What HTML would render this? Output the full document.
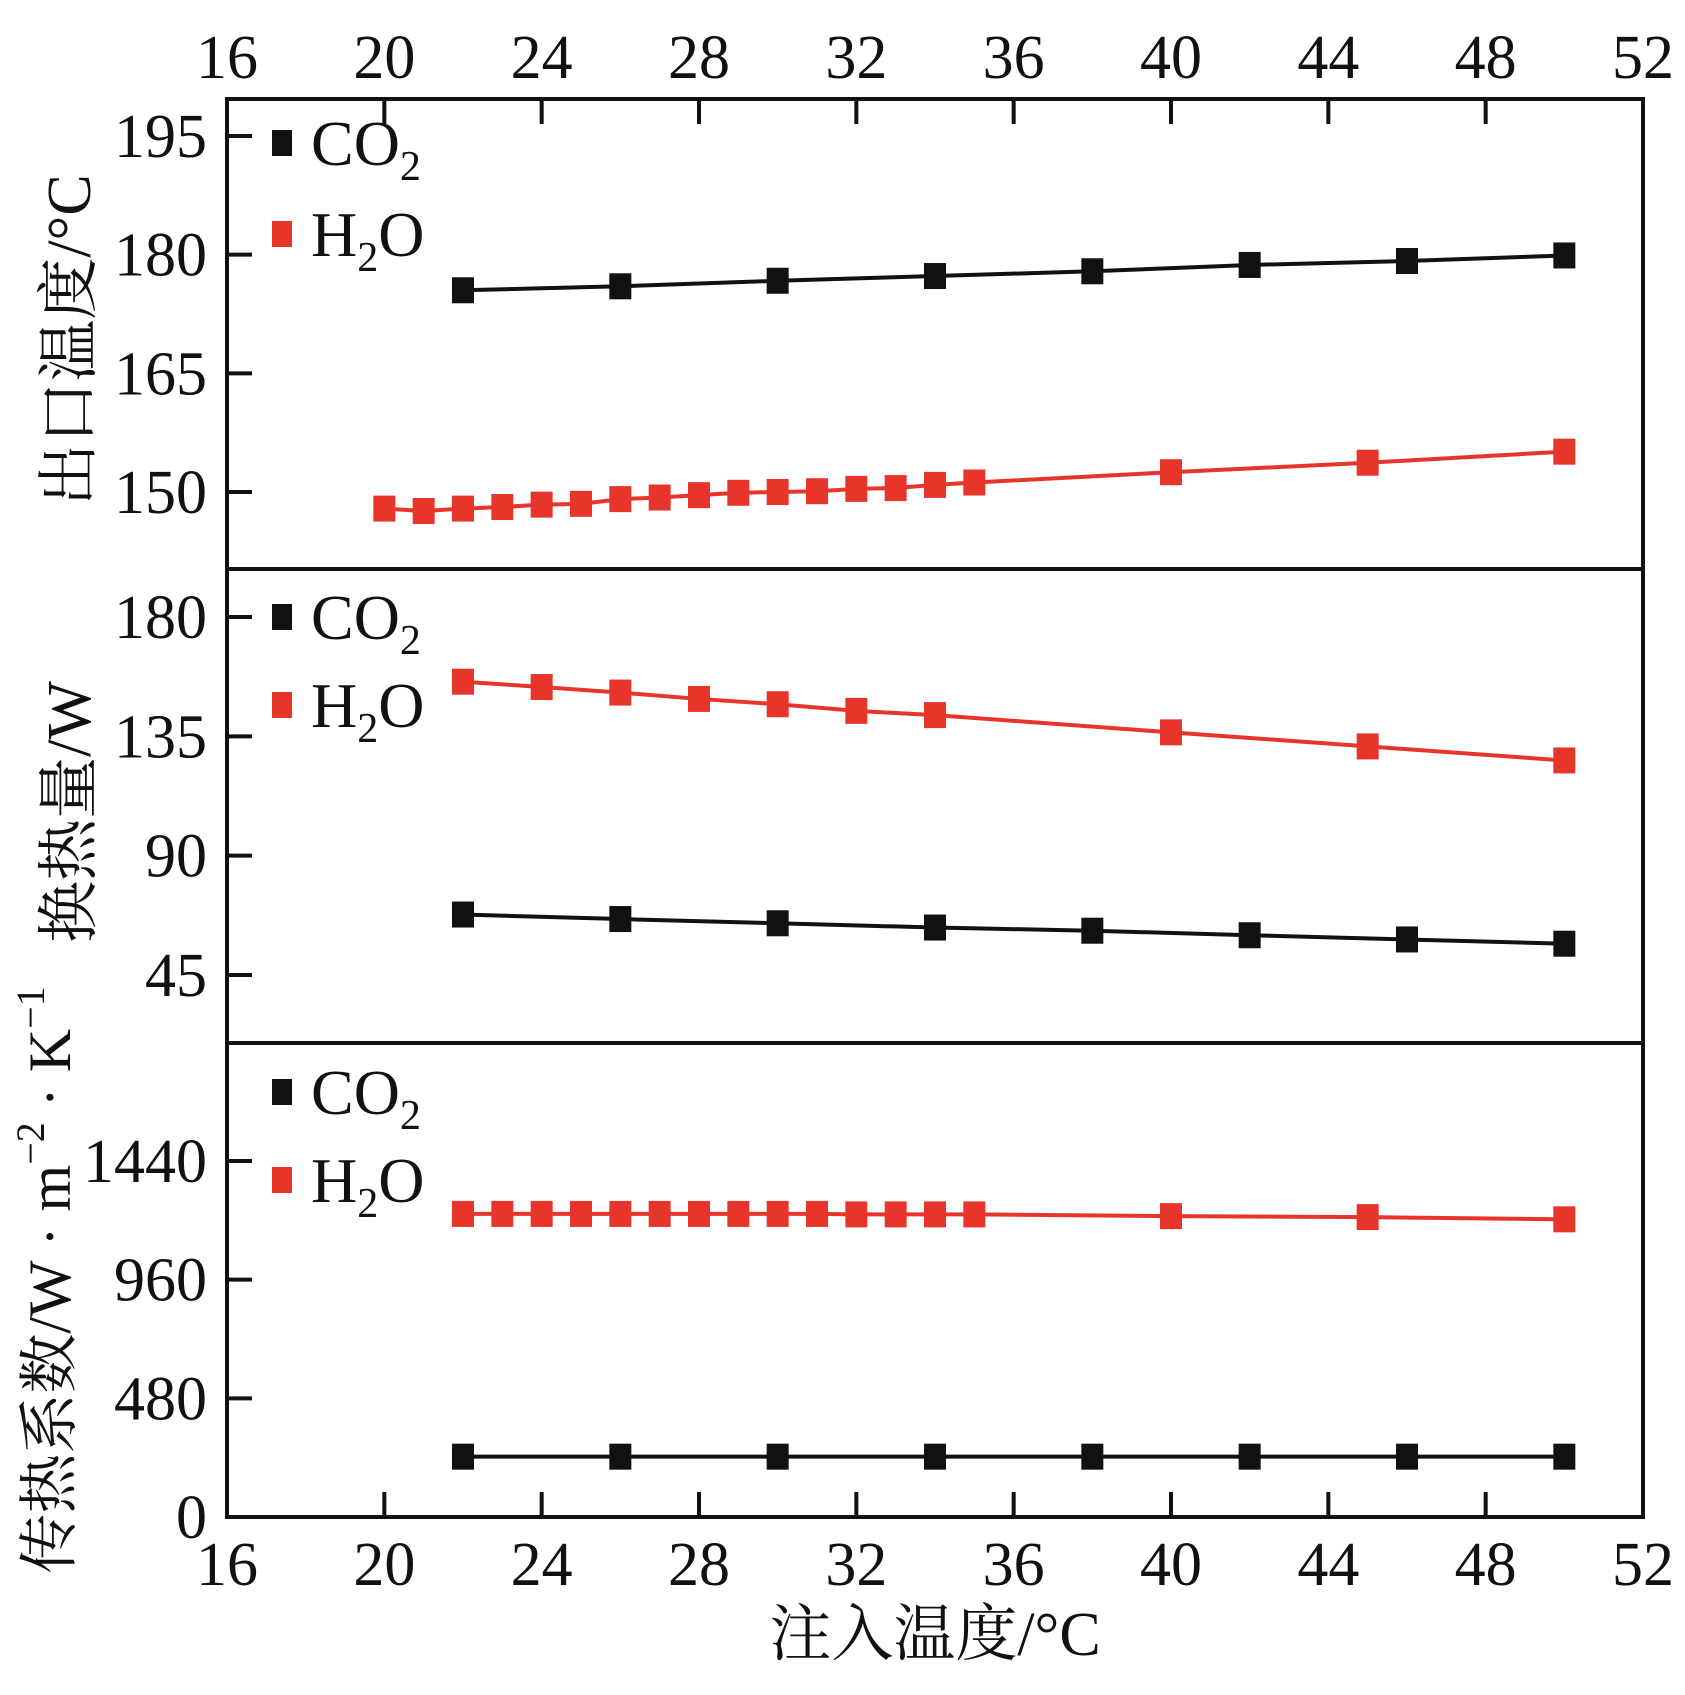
<!DOCTYPE html>
<html><head><meta charset="utf-8"><style>
html,body{margin:0;padding:0;background:#fff;}
svg{display:block;font-family:"Liberation Serif","Noto Serif CJK SC",serif;}
</style></head><body>
<svg id="chart" width="1685" height="1695" viewBox="0 0 1685 1695" xmlns="http://www.w3.org/2000/svg"></svg>
<script>
const xTicks=[16,20,24,28,32,36,40,44,48,52];
const p1Ticks=[150,165,180,195];
const p2Ticks=[45,90,135,180];
const p3Ticks=[0,480,960,1440];
const co2X=[22,26,30,34,38,42,46,50];
const co2Outlet=[175.5,176,176.7,177.3,177.9,178.7,179.2,179.9];
const h2oOutletX=[20,21,22,23,24,25,26,27,28,29,30,31,32,33,34,35,40,45,50];
const h2oOutlet=[147.9,147.6,147.9,148.1,148.4,148.5,149.1,149.3,149.6,149.9,150,150.1,150.4,150.5,150.9,151.2,152.5,153.7,155.1];
const co2Heat=[67.8,66.1,64.5,62.9,61.7,60,58.4,56.8];
const h2oHeatX=[22,24,26,28,30,32,34,40,45,50];
const h2oHeat=[155.6,153.6,151.5,149.1,147.1,144.6,143,136.5,131.2,125.9];
const co2Coef=[244,244,244,244,244,244,244,244];
const h2oCoefX=[22,23,24,25,26,27,28,29,30,31,32,33,34,35,40,45,50];
const h2oCoef=[1226,1226,1226,1226,1226,1226,1226,1226,1226,1226,1224,1224,1224,1224,1217,1213,1204];

const svg=document.getElementById('chart');
const NS='http://www.w3.org/2000/svg';
const L=227,R=1643,T=99,S1=569,S2=1043,B=1517;
const X=v=>L+(v-16)*(R-L)/36;
const Y1=v=>492-(v-150)*(492-136)/45;
const Y2=v=>975-(v-45)*(975-617)/135;
const Y3=v=>1517-v*(1517-1161)/1440;
const RED='#e8352c',BLK='#111';
function el(tag,attrs,parent){const e=document.createElementNS(NS,tag);for(const k in attrs)e.setAttribute(k,attrs[k]);(parent||svg).appendChild(e);return e;}
function txt(s,x,y,size,anchor,parent){const t=el('text',{x:x,y:y,'font-size':size,'text-anchor':anchor||'middle',fill:'#111'},parent);t.textContent=s;return t;}

const frame=el('g',{});


el('rect',{x:L,y:T,width:R-L,height:B-T,fill:'none',stroke:BLK,'stroke-width':4},frame);
el('line',{x1:L,y1:S1,x2:R,y2:S1,stroke:BLK,'stroke-width':4},frame);
el('line',{x1:L,y1:S2,x2:R,y2:S2,stroke:BLK,'stroke-width':4},frame);

const xax=el('g',{});


xTicks.forEach(v=>{
  const x=X(v);
  if(v>16&&v<52){el('line',{x1:x,y1:B,x2:x,y2:B-25,stroke:BLK,'stroke-width':4},xax);
  el('line',{x1:x,y1:T,x2:x,y2:T+25,stroke:BLK,'stroke-width':4},xax);}
  const a=txt(String(v),x,1585,62,'middle',xax);
  
  
  const b=txt(String(v),x,78,62,'middle',xax);
  
  
});
const xt=txt('注入温度/°C',935,1655,62,'middle');



function yAxis(ticks,Y,name){
  const g=el('g',{});
  
  
  ticks.forEach(v=>{const y=Y(v);
    el('line',{x1:L,y1:y,x2:L+25,y2:y,stroke:BLK,'stroke-width':4},g);
    const t=txt(String(v),207,y+21,62,'end',g);
    
    
  });
}
yAxis(p1Ticks,Y1,'outlet-temp-y-axis');
yAxis(p2Ticks,Y2,'heat-transfer-y-axis');
yAxis(p3Ticks,Y3,'coefficient-y-axis');

function vtitle(s,cx,cy,size,name){
  const t=el('text',{x:cx,y:cy,'font-size':size,'text-anchor':'middle','dominant-baseline':'central',fill:'#111',transform:`rotate(-90 ${cx} ${cy})`});
  t.innerHTML=s;
  
  
}
vtitle('出口温度/°C',70,340,62,'outlet-temp-y-title');
vtitle('换热量/W',70,812,62,'heat-transfer-y-title');
vtitle('传热系数/W · m<tspan dy="-20" font-size="40">−2</tspan><tspan dy="20"> · K</tspan><tspan dy="-20" font-size="40">−1</tspan>',50,1280,60,'coefficient-y-title');

function series(xs,ys,Y,color,name){
  const g=el('g',{});
  
  
  const pts=xs.map((x,i)=>X(x)+','+Y(ys[i])).join(' ');
  el('polyline',{points:pts,fill:'none',stroke:color,'stroke-width':4},g);
  xs.forEach((x,i)=>{
    const r=el('rect',{x:X(x)-11,y:Y(ys[i])-13,width:22,height:26,fill:color},g);
    
    
  });
}
series(co2X,co2Outlet,Y1,BLK,'co2-outlet-series');
series(h2oOutletX,h2oOutlet,Y1,RED,'h2o-outlet-series');
series(co2X,co2Heat,Y2,BLK,'co2-heat-series');
series(h2oHeatX,h2oHeat,Y2,RED,'h2o-heat-series');
series(co2X,co2Coef,Y3,BLK,'co2-coef-series');
series(h2oCoefX,h2oCoef,Y3,RED,'h2o-coef-series');

function legend(y1,y2,name){
  const g=el('g',{});
  
  
  el('rect',{x:272,y:y1-13,width:20,height:26,fill:BLK},g);
  el('rect',{x:272,y:y2-13,width:20,height:26,fill:RED},g);
  const a=el('text',{x:311,y:y1+22,'font-size':64,fill:'#111'},g);
  a.innerHTML='CO<tspan dy="15" font-size="42">2</tspan>';
  const b=el('text',{x:311,y:y2+22,'font-size':64,fill:'#111'},g);
  b.innerHTML='H<tspan dy="15" font-size="42">2</tspan><tspan dy="-15">O</tspan>';
}
legend(143,234,'outlet-legend');
legend(617,705,'heat-legend');
legend(1092,1180,'coef-legend');
</script>
</body></html>
